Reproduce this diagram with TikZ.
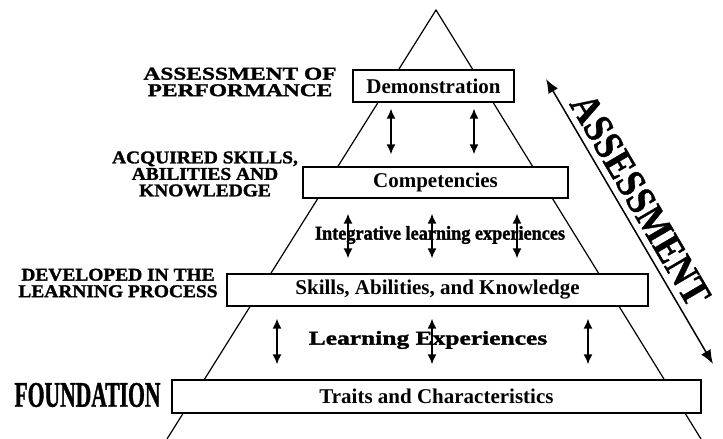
\documentclass[tikz,border=0pt]{standalone}
\usepackage{fontspec}
\setmainfont{Liberation Serif}
\newfontfamily\widecaps[FakeStretch=1.08, FakeBold=1.5]{Liberation Serif}
\newfontfamily\widercaps[FakeStretch=1.3, FakeBold=1.5]{Liberation Serif}
\newfontfamily\condcaps[FakeStretch=0.6, FakeBold=1]{Liberation Serif}
\newfontfamily\slimcaps[FakeStretch=0.88, FakeBold=1]{Liberation Serif}
\newfontfamily\widetext[FakeStretch=1.3, FakeBold=1.5]{Liberation Serif}
\newfontfamily\slimtext[FakeStretch=0.93, FakeBold=1.5]{Liberation Serif}
\usetikzlibrary{calc}
\usetikzlibrary{arrows.meta}
\tikzset{>={Latex[length=10pt,width=9pt]}}
\tikzstyle{level} = [rectangle, draw=black, line width=1.4pt, fill=white, inner sep=0, font=\fontsize{21}{24}\selectfont\bfseries]
\tikzstyle{stage} = [draw=none, align=center, inner sep=0, font=\widecaps\fontsize{18}{16.5}\selectfont\bfseries]
\tikzstyle{link} = [<->, line width=1.5pt]

\begin{document}
\begin{tikzpicture}[x=1pt, y=1pt]
\useasboundingbox (0,0) rectangle (723,-439);
% pyramid
\coordinate (P) at (436,-10);
\coordinate (L) at (167,-439);
\coordinate (R) at (701,-439);
\draw [line width=1.2pt] (L) -- (P) -- (R);
% levels
\node [level, minimum width=161, minimum height=32] (D) at (433.5,-86) {Demonstration};
\node [level, minimum width=265, minimum height=31] (C) at (435.5,-182.5) {Competencies};
\node [level, minimum width=421, minimum height=32] (S) at (437.5,-290) {Skills, Abilities, and Knowledge};
\node [level, minimum width=529, minimum height=33] (T) at (436.5,-396.5) {Traits and Characteristics};
% texts between levels
\node [draw=none, inner sep=0, font=\slimtext\fontsize{19.6}{22}\selectfont\bfseries] (I) at (440,-235) {Integrative learning experiences};
\node [draw=none, inner sep=0, font=\widetext\fontsize{19.6}{22}\selectfont\bfseries] (E) at (428,-340) {Learning Experiences};
% stages on the left
\node [stage, font=\widercaps\fontsize{18}{16.5}\selectfont\bfseries] (s1) at (240,-82) {ASSESSMENT OF\\PERFORMANCE};
\node [stage] (s2) at (205,-174) {ACQUIRED SKILLS,\\ABILITIES AND\\KNOWLEDGE};
\node [stage] (s3) at (118,-283) {DEVELOPED IN THE\\LEARNING PROCESS};
\node [draw=none, inner sep=0, font=\condcaps\fontsize{36}{36}\selectfont\bfseries] (F) at (87.5,-395) {FOUNDATION};
% double arrows
\draw [link, shorten <=6pt, shorten >=12pt] (391,0 |- D.south) -- (391,0 |- C.north);
\draw [link, shorten <=6pt, shorten >=12pt] (474,0 |- D.south) -- (474,0 |- C.north);
\draw [link, shorten <=15pt, shorten >=15pt] (348,0 |- C.south) -- (348,0 |- S.north);
\draw [link, shorten <=15pt, shorten >=15pt] (432,0 |- C.south) -- (432,0 |- S.north);
\draw [link, shorten <=15pt, shorten >=15pt] (517,0 |- C.south) -- (517,0 |- S.north);
\draw [link, shorten <=12pt, shorten >=15pt] (277,0 |- S.south) -- (277,0 |- T.north);
\draw [link, shorten <=12pt, shorten >=15pt] (432,0 |- S.south) -- (432,0 |- T.north);
\draw [link, shorten <=12pt, shorten >=15pt] (588,0 |- S.south) -- (588,0 |- T.north);
% assessment
\coordinate (A1) at (546,-79);
\coordinate (A2) at (713,-364);
\draw [{Latex[length=14pt,width=11pt]}-{Latex[length=14pt,width=11pt]}, line width=1.5pt] (A1) -- (A2) node [pos=0.46, sloped, above, inner sep=6pt, font=\slimcaps\fontsize{40.8}{40}\selectfont\bfseries] (lbl) {ASSESSMENT};
\end{tikzpicture}
\end{document}
